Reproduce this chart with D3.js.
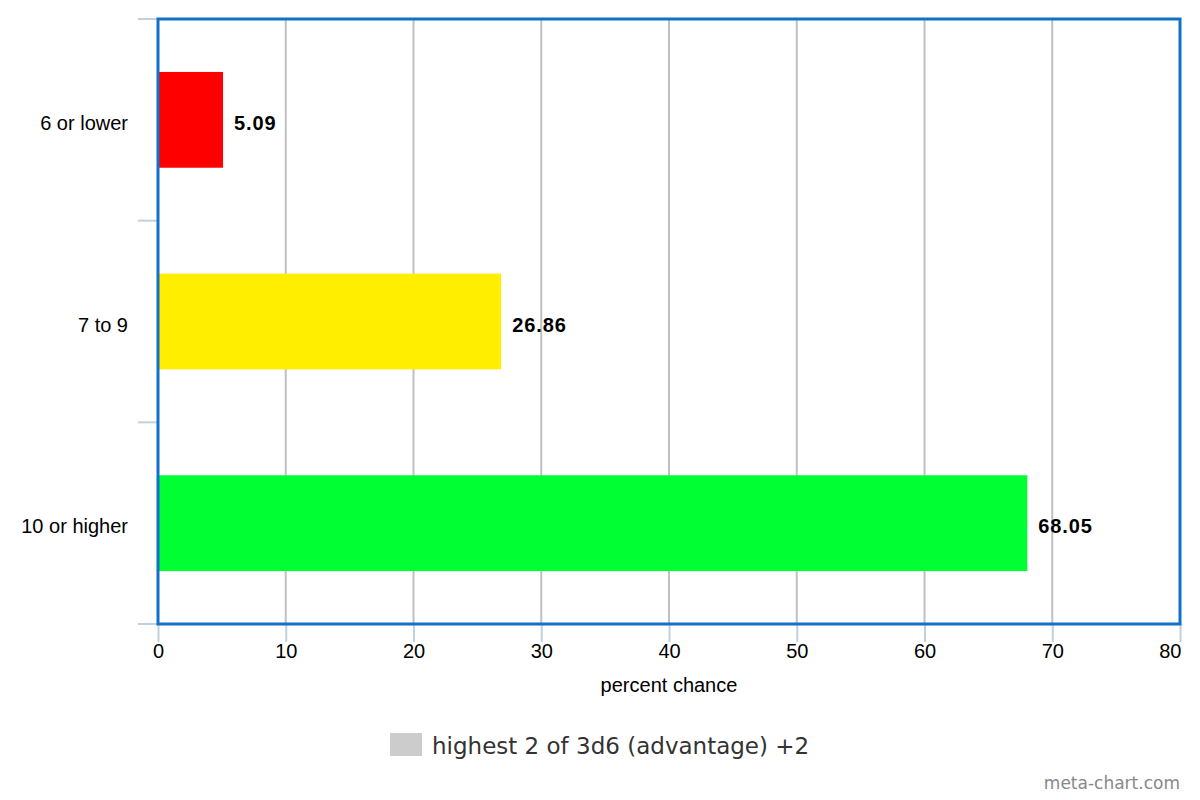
<!DOCTYPE html>
<html><head><meta charset="utf-8">
<script src="https://cdn.jsdelivr.net/npm/d3@7"></script>
<style>body{margin:0;background:#fff}svg{display:block}</style>
</head><body>
<svg id="c" width="1200" height="800"></svg>
<script>
const categories = ["6 or lower", "7 to 9", "10 or higher"];
const values = [5.09, 26.86, 68.05];
const colors = ["#ff0000", "#ffee00", "#00ff33"];
const xTicks = [0, 10, 20, 30, 40, 50, 60, 70, 80];
const legendLabel = "highest 2 of 3d6 (advantage) +2";
const xTitle = "percent chance";

const svg = d3.select("#c");
const L = 158, R = 1180, T = 19, B = 624;
const x = d3.scaleLinear().domain([0, 80]).range([L, R]);
const y = d3.scaleBand().domain(categories).range([T, B]).paddingInner(0.525).paddingOuter(0.2625);
const FF = "Liberation Sans, Arial, sans-serif";

// gridlines
svg.append("g").selectAll("line").data(xTicks.slice(1, -1)).join("line")
  .attr("x1", d => x(d)).attr("x2", d => x(d)).attr("y1", T).attr("y2", B)
  .attr("stroke", "#c0c0c0").attr("stroke-width", 2);

// bars
svg.append("g").selectAll("rect").data(values).join("rect")
  .attr("x", x(0)).attr("y", (d, i) => y(categories[i]))
  .attr("width", d => x(d) - x(0)).attr("height", y.bandwidth())
  .attr("fill", (d, i) => colors[i]);

// value labels
svg.append("g").selectAll("text").data(values).join("text")
  .attr("x", d => x(d) + 11).attr("y", (d, i) => y(categories[i]) + y.bandwidth() / 2 + 3)
  .attr("dy", "0.35em").attr("font-family", FF)
  .attr("font-size", 20).attr("font-weight", "bold").attr("letter-spacing", 0.9).attr("fill", "#000")
  .text(d => d.toFixed(2));

// x axis
const xa = svg.append("g").attr("transform", `translate(0,${B})`)
  .call(d3.axisBottom(x).tickValues(xTicks).tickSize(18).tickPadding(2));
xa.select(".domain").remove();
xa.selectAll("line").attr("stroke", "#c0d0e0").attr("stroke-width", 2);
xa.selectAll("text").attr("font-family", FF)
  .attr("font-size", 20).attr("fill", "#000")
  .attr("text-anchor", d => d === 80 ? "end" : "middle")
  .attr("dx", d => d === 80 ? 1 : 0);

// y axis ticks at band boundaries
const bounds = [T, ...categories.slice(1).map(c => y(c) - y.step() * y.paddingInner() / 2), B];
svg.append("g").selectAll("line").data(bounds).join("line")
  .attr("x1", L - 20).attr("x2", L).attr("y1", d => d).attr("y2", d => d)
  .attr("stroke", "#c0d0e0").attr("stroke-width", 2);
svg.append("g").selectAll("text").data(categories).join("text")
  .attr("x", 128).attr("y", c => y(c) + y.bandwidth() / 2 + 3).attr("dy", "0.35em")
  .attr("text-anchor", "end").attr("font-family", FF)
  .attr("font-size", 20).attr("fill", "#000").text(c => c);

// plot border
svg.append("rect").attr("x", L).attr("y", T).attr("width", R - L).attr("height", B - T)
  .attr("fill", "none").attr("stroke", "#1170c8").attr("stroke-width", 3);

// x title
svg.append("text").attr("x", (L + R) / 2).attr("y", 692)
  .attr("text-anchor", "middle").attr("font-family", FF)
  .attr("font-size", 20).attr("fill", "#000").text(xTitle);

// legend
svg.append("rect").attr("x", 390).attr("y", 733).attr("width", 32).attr("height", 23).attr("fill", "#cccccc");
svg.append("text").attr("x", 432).attr("y", 746).attr("dy", "0.35em")
  .attr("font-family", "DejaVu Sans, sans-serif").attr("font-size", 23).attr("fill", "#333")
  .text(legendLabel);

// watermark
svg.append("text").attr("x", 1180).attr("y", 789).attr("text-anchor", "end")
  .attr("font-family", "DejaVu Sans, sans-serif").attr("font-size", 17).attr("fill", "#888")
  .text("meta-chart.com");
</script>
</body></html>
